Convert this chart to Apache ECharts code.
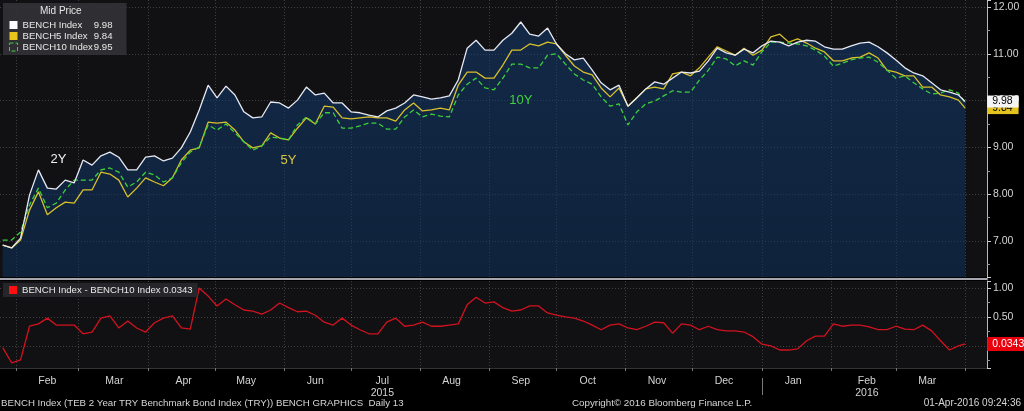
<!DOCTYPE html>
<html><head><meta charset="utf-8">
<script src="https://cdn.jsdelivr.net/npm/echarts@6/dist/echarts.min.js"></script>
<style>html,body{margin:0;padding:0;background:#000;}#c{width:1024px;height:411px;}</style>
</head><body><div id="c"></div>
<script>
const dates = [
'2015-01-26','2015-01-30','2015-02-03','2015-02-07','2015-02-11','2015-02-15','2015-02-19','2015-02-23','2015-02-27','2015-03-03',
'2015-03-07','2015-03-11','2015-03-15','2015-03-19','2015-03-23','2015-03-27','2015-03-31','2015-04-04','2015-04-08','2015-04-12',
'2015-04-16','2015-04-20','2015-04-24','2015-04-28','2015-05-02','2015-05-06','2015-05-10','2015-05-14','2015-05-18','2015-05-22',
'2015-05-26','2015-05-30','2015-06-03','2015-06-07','2015-06-11','2015-06-15','2015-06-19','2015-06-23','2015-06-27','2015-07-01',
'2015-07-05','2015-07-09','2015-07-13','2015-07-17','2015-07-21','2015-07-25','2015-07-29','2015-08-02','2015-08-06','2015-08-10',
'2015-08-14','2015-08-18','2015-08-22','2015-08-26','2015-08-30','2015-09-03','2015-09-07','2015-09-11','2015-09-15','2015-09-19',
'2015-09-23','2015-09-27','2015-10-01','2015-10-05','2015-10-09','2015-10-13','2015-10-17','2015-10-21','2015-10-25','2015-10-29',
'2015-11-02','2015-11-06','2015-11-10','2015-11-14','2015-11-18','2015-11-22','2015-11-26','2015-11-30','2015-12-04','2015-12-08',
'2015-12-12','2015-12-16','2015-12-20','2015-12-24','2015-12-28','2016-01-01','2016-01-05','2016-01-09','2016-01-13','2016-01-17',
'2016-01-21','2016-01-25','2016-01-29','2016-02-02','2016-02-06','2016-02-10','2016-02-14','2016-02-18','2016-02-22','2016-02-26',
'2016-03-01','2016-03-05','2016-03-09','2016-03-13','2016-03-17','2016-03-21','2016-03-25','2016-03-29','2016-04-01'];

const bench = [
6.91, 6.85, 7.06, 7.98, 8.52, 8.13, 8.11, 8.30, 8.24, 8.73,
8.62, 8.82, 8.90, 8.79, 8.52, 8.52, 8.79, 8.82, 8.71, 8.77,
8.99, 9.33, 9.80, 10.33, 10.06, 10.31, 10.12, 9.76, 9.63, 9.65,
9.97, 9.95, 9.84, 10.01, 10.29, 10.12, 10.16, 9.95, 9.95, 9.76,
9.74, 9.69, 9.65, 9.78, 9.84, 9.95, 10.12, 10.08, 10.03, 10.06,
10.10, 10.44, 11.12, 11.29, 11.08, 11.08, 11.29, 11.44, 11.68, 11.42,
11.38, 11.55, 11.21, 11.00, 10.87, 10.91, 10.65, 10.38, 10.23, 10.33,
9.88, 10.06, 10.25, 10.40, 10.35, 10.48, 10.61, 10.59, 10.63, 10.85,
11.12, 11.02, 10.97, 11.10, 11.02, 11.17, 11.27, 11.25, 11.17, 11.25,
11.29, 11.27, 11.15, 11.10, 11.10, 11.17, 11.23, 11.25, 11.15, 11.02,
10.87, 10.70, 10.59, 10.53, 10.38, 10.23, 10.18, 10.12, 9.98];

const bench5 = [
6.91, 6.85, 7.02, 7.66, 8.05, 7.56, 7.71, 7.83, 7.81, 8.09,
8.09, 8.47, 8.43, 8.30, 7.94, 8.13, 8.35, 8.26, 8.18, 8.35,
8.73, 8.94, 8.99, 9.54, 9.52, 9.54, 9.37, 9.12, 8.99, 9.03,
9.31, 9.20, 9.16, 9.41, 9.63, 9.50, 9.88, 9.86, 9.63, 9.61,
9.63, 9.65, 9.63, 9.63, 9.56, 9.80, 9.95, 9.78, 9.80, 9.84,
9.80, 10.33, 10.61, 10.61, 10.48, 10.48, 10.76, 11.08, 11.08, 11.21,
11.17, 11.25, 11.21, 10.97, 10.74, 10.61, 10.55, 10.27, 10.08, 10.27,
9.88, 10.06, 10.25, 10.29, 10.25, 10.57, 10.61, 10.53, 10.70, 10.93,
11.15, 11.06, 10.97, 11.12, 10.97, 11.08, 11.36, 11.42, 11.25, 11.32,
11.23, 11.12, 11.04, 10.85, 10.85, 10.91, 10.93, 11.02, 10.91, 10.65,
10.61, 10.53, 10.53, 10.29, 10.29, 10.12, 10.08, 10.01, 9.84];

const bench10 = [
7.02, 7.02, 7.19, 7.77, 8.13, 7.71, 7.81, 8.09, 8.30, 8.30,
8.30, 8.52, 8.56, 8.47, 8.15, 8.26, 8.47, 8.41, 8.26, 8.35,
8.67, 8.90, 9.01, 9.48, 9.37, 9.50, 9.31, 9.12, 8.94, 9.03,
9.22, 9.20, 9.16, 9.48, 9.65, 9.50, 9.74, 9.74, 9.41, 9.41,
9.46, 9.52, 9.52, 9.39, 9.39, 9.65, 9.80, 9.65, 9.71, 9.67,
9.65, 10.12, 10.35, 10.48, 10.27, 10.23, 10.48, 10.78, 10.78, 10.70,
10.70, 10.97, 11.00, 10.78, 10.57, 10.44, 10.35, 10.08, 9.88, 9.93,
9.48, 9.76, 9.93, 9.99, 10.10, 10.21, 10.18, 10.18, 10.44, 10.65,
10.93, 10.89, 10.74, 10.85, 10.76, 11.04, 11.25, 11.25, 11.23, 11.21,
11.17, 11.08, 10.95, 10.74, 10.80, 10.87, 10.91, 10.93, 10.82, 10.65,
10.48, 10.53, 10.38, 10.25, 10.14, 10.16, 10.23, 10.16, 9.95];

const spread = [
-0.03, -0.29, -0.24, 0.34, 0.38, 0.48, 0.36, 0.36, 0.36, 0.21,
0.24, 0.48, 0.52, 0.31, 0.43, 0.31, 0.24, 0.40, 0.48, 0.52,
0.31, 0.29, 1.00, 0.86, 0.69, 0.81, 0.71, 0.62, 0.60, 0.55,
0.62, 0.74, 0.66, 0.59, 0.60, 0.53, 0.41, 0.36, 0.48, 0.36,
0.28, 0.21, 0.21, 0.41, 0.48, 0.34, 0.36, 0.41, 0.34, 0.34,
0.36, 0.38, 0.71, 0.84, 0.74, 0.76, 0.66, 0.60, 0.62, 0.69,
0.69, 0.57, 0.53, 0.50, 0.48, 0.43, 0.36, 0.28, 0.36, 0.38,
0.31, 0.28, 0.34, 0.41, 0.40, 0.22, 0.38, 0.36, 0.28, 0.34,
0.28, 0.26, 0.26, 0.24, 0.16, 0.03, 0.00, -0.07, -0.07, -0.05,
0.09, 0.17, 0.17, 0.38, 0.34, 0.36, 0.36, 0.33, 0.28, 0.28,
0.34, 0.29, 0.28, 0.36, 0.26, 0.09, -0.07, 0.00, 0.0343];

const monthStarts = ['2015-02-01','2015-03-01','2015-04-01','2015-05-01','2015-06-01','2015-07-01','2015-08-01',
  '2015-09-01','2015-10-01','2015-11-01','2015-12-01','2016-01-01','2016-02-01','2016-03-01','2016-04-01'];
const monthLabelDates = ['2015-02-15','2015-03-17','2015-04-17','2015-05-15','2015-06-15','2015-07-15','2015-08-15',
  '2015-09-15','2015-10-15','2015-11-15','2015-12-15','2016-01-15','2016-02-17','2016-03-15'];
const monthLabels = ['Feb','Mar','Apr','May','Jun','Jul','Aug','Sep','Oct','Nov','Dec','Jan','Feb','Mar'];
const yearLabels  = ['','','','','','2015','','','','','','','2016',''];
const yearBreak = ['2016-01-01'];

const seriesNames = ['BENCH Index','BENCH5 Index','BENCH10 Index','BENCH Index - BENCH10 Index'];
const curveLabels = [
  {text:'2Y',  date:'2015-02-20', value:8.75, color:'#f0f0f0'},
  {text:'5Y',  date:'2015-06-03', value:8.73, color:'#d9c73c'},
  {text:'10Y', date:'2015-09-15', value:10.01, color:'#3fd23f'}
];

const FONT = 'Liberation Sans';
const HOUR = 3600000;
function toTs(s){ const p = s.split('-').map(Number); return new Date(p[0], p[1]-1, p[2]).getTime(); }
const labelMap = {};
monthLabelDates.forEach((d,i)=>{ labelMap[toTs(d)] = monthLabels[i] + (yearLabels[i] ? '\n' + yearLabels[i] : ''); });
function monthFmt(v){
  if (labelMap[v] !== undefined) return labelMap[v];
  let best = '', bd = Infinity;
  for (const k in labelMap){ const d = Math.abs(+k - v); if (d < bd){ bd = d; best = labelMap[k]; } }
  return bd < 86400000 * 2 ? best : '';
}
const pair = a => dates.map((d,i)=>[toTs(d), a[i]]);
const last = a => a[a.length-1];
const legendVals = {
  'BENCH Index': last(bench).toFixed(2),
  'BENCH5 Index': last(bench5).toFixed(2),
  'BENCH10 Index': last(bench10).toFixed(2),
  'BENCH Index - BENCH10 Index': last(spread).toFixed(4)
};
const X_MIN = toTs('2015-01-24') + 19*HOUR, X_MAX = toTs('2016-04-10') + 19*HOUR;
const monthStartTs = monthStarts.map(toTs);
const labelTs = monthLabelDates.map(toTs);
const gridLine = {show:true, lineStyle:{color:'rgba(255,255,255,0.2)', type:[1,2], width:1}};
const tick = {color:'#d4d4d4', fontSize:10.5, fontFamily:FONT};
const LF = 9.6;

const chart = echarts.init(document.getElementById('c'), null, {renderer:'canvas'});
const option = {
  backgroundColor:'#000',
  animation:false,
  textStyle:{fontFamily:FONT},
  title:[
    {text:'Mid Price', left:40, top:6, padding:0, textStyle:{color:'#e6e6e6', fontSize:10, fontWeight:'normal', fontFamily:FONT}},
    {text:'BENCH Index (TEB 2 Year TRY Benchmark Bond Index (TRY)) BENCH GRAPHICS  Daily 13', left:1, top:398, padding:0,
      textStyle:{color:'#d6d6d6', fontSize:9.7, fontWeight:'normal', fontFamily:FONT}},
    {text:'Copyright\u00A9 2016 Bloomberg Finance L.P.', left:572, top:398, padding:0,
      textStyle:{color:'#d6d6d6', fontSize:9.8, fontWeight:'normal', fontFamily:FONT}},
    {text:'01-Apr-2016 09:24:36', right:3, top:398, padding:0,
      textStyle:{color:'#d6d6d6', fontSize:10, fontWeight:'normal', fontFamily:FONT}}
  ],
  legend:[
    {left:3, top:3, orient:'vertical', selectedMode:false, backgroundColor:'rgba(50,50,54,0.92)',
      padding:[17,14,3,6], itemWidth:8, itemHeight:8, itemGap:1,
      data:[
        {name:seriesNames[0], icon:'rect', itemStyle:{color:'#ffffff', borderWidth:0}},
        {name:seriesNames[1], icon:'rect', itemStyle:{color:'#e8c41c', borderWidth:0}},
        {name:seriesNames[2], icon:'rect', itemStyle:{color:'rgba(0,0,0,0)', borderColor:'#3ccf3c', borderWidth:1, borderType:'dashed'}}
      ],
      formatter: n => '{n|' + n + '}{v|' + legendVals[n] + '}',
      textStyle:{color:'#e8e8e8', fontSize:LF, fontFamily:FONT, rich:{
        n:{width:71, color:'#e8e8e8', fontSize:LF, fontFamily:FONT, lineHeight:12},
        v:{width:19, align:'right', color:'#e8e8e8', fontSize:LF, fontFamily:FONT, lineHeight:12}}}
    },
    {left:3, top:283, selectedMode:false, backgroundColor:'rgba(40,40,44,0.92)', padding:[2,5,2,6],
      itemWidth:8, itemHeight:8,
      data:[{name:seriesNames[3], icon:'rect', itemStyle:{color:'#ff1010', borderWidth:0}}],
      formatter: n => n + ' ' + legendVals[n],
      textStyle:{color:'#e8e8e8', fontSize:LF, fontFamily:FONT}
    }
  ],
  grid:[
    {left:0, right:37, top:0, height:277, show:true, backgroundColor:'#111114', borderWidth:0, outerBoundsMode:'none', containLabel:false},
    {left:0, right:37, top:281, height:87, show:true, backgroundColor:'#111114', borderWidth:0, outerBoundsMode:'none', containLabel:false}
  ],
  xAxis:[
    {type:'value', gridIndex:0, position:'bottom', min:X_MIN, max:X_MAX, offset:2,
      axisLine:{show:true, onZero:false, lineStyle:{color:'#a6a6ae', width:2}},
      axisTick:{show:false, customValues:monthStartTs},
      axisLabel:{show:false}, splitLine:gridLine},
    {type:'value', gridIndex:1, position:'bottom', min:X_MIN, max:X_MAX,
      axisLine:{show:true, onZero:false, lineStyle:{color:'#333', width:1}},
      axisTick:{show:true, length:3, customValues:monthStartTs, lineStyle:{color:'#777'}},
      axisLabel:Object.assign({show:true, customValues:labelTs, formatter:monthFmt, margin:7, lineHeight:12}, tick),
      splitLine:gridLine},
    {type:'value', gridIndex:1, position:'bottom', min:X_MIN, max:X_MAX, offset:10,
      axisLine:{show:false, onZero:false},
      axisTick:{show:true, length:17, customValues:yearBreak.map(toTs), lineStyle:{color:'#7a7a7a'}},
      axisLabel:{show:false}, splitLine:{show:false}}
  ],
  yAxis:[
    {type:'value', gridIndex:0, position:'right', min:6.23, max:12.15,
      axisLine:{show:true, onZero:false, lineStyle:{color:'#b8b8b8'}},
      axisTick:{show:true, length:4, lineStyle:{color:'#cfcfcf'}},
      minorTick:{show:true, splitNumber:2, length:3, lineStyle:{color:'#999'}},
      axisLabel:Object.assign({margin:6, showMinLabel:false, showMaxLabel:false,
        formatter:v => Math.abs(v - Math.round(v)) < 1e-6 ? v.toFixed(2) : ''}, tick),
      splitLine:Object.assign({showMinLine:false, showMaxLine:false}, gridLine)},
    {type:'value', gridIndex:1, position:'right', min:-0.38, max:1.12, splitNumber:3,
      axisLine:{show:true, onZero:false, lineStyle:{color:'#b8b8b8'}},
      axisTick:{show:true, length:4, lineStyle:{color:'#cfcfcf'}},
      minorTick:{show:true, splitNumber:2, length:3, lineStyle:{color:'#999'}},
      axisLabel:Object.assign({margin:6, showMinLabel:false, showMaxLabel:false,
        formatter:v => Math.abs(v*2 - Math.round(v*2)) < 1e-6 ? v.toFixed(2) : ''}, tick),
      splitLine:Object.assign({showMinLine:false, showMaxLine:false}, gridLine)}
  ],
  series:[
    {name:'BENCH area', type:'line', xAxisIndex:0, yAxisIndex:0, data:pair(bench), symbol:'none', z:1, silent:true,
      lineStyle:{width:0, opacity:0},
      areaStyle:{color:new echarts.graphic.LinearGradient(0,0,0,1,[
        {offset:0, color:'rgba(20,62,116,0.74)'},{offset:1, color:'rgba(13,50,96,0.74)'}])}},
    {name:seriesNames[1], type:'line', xAxisIndex:0, yAxisIndex:0, data:pair(bench5), symbol:'none', z:3,
      lineStyle:{color:'#d8c02a', width:1.3}, itemStyle:{color:'#e8c41c'},
      endLabel:{show:true, distance:22, formatter:p => p.value[1].toFixed(2), color:'#000', backgroundColor:'#e2c21e',
        padding:[1,6,0,5], fontSize:10.5, fontFamily:FONT, lineHeight:11}},
    {name:seriesNames[2], type:'line', xAxisIndex:0, yAxisIndex:0, data:pair(bench10), symbol:'none', z:3,
      lineStyle:{color:'#3ccf3c', width:1.3, type:[5,3]}, itemStyle:{color:'#3ccf3c'}},
    {name:seriesNames[0], type:'line', xAxisIndex:0, yAxisIndex:0, data:pair(bench), symbol:'none', z:4,
      lineStyle:{color:'#e6e8f2', width:1.3}, itemStyle:{color:'#ffffff'},
      endLabel:{show:true, distance:22, formatter:p => p.value[1].toFixed(2), color:'#000', backgroundColor:'#f4f4f4',
        padding:[1,6,0,5], fontSize:10.5, fontFamily:FONT, lineHeight:11},
      markPoint:{symbol:'circle', symbolSize:0, silent:true,
        label:{show:true, position:'inside', fontSize:13, fontFamily:FONT},
        data:curveLabels.map(c => ({coord:[toTs(c.date), c.value], label:{formatter:c.text, color:c.color}}))}},
    {name:seriesNames[3], type:'line', xAxisIndex:1, yAxisIndex:1, data:pair(spread), symbol:'none', z:3,
      lineStyle:{color:'#d2121e', width:1.3}, itemStyle:{color:'#ff1010'},
      endLabel:{show:true, distance:22, formatter:p => p.value[1].toFixed(4), color:'#fff', backgroundColor:'#e8000c',
        padding:[2,6,1,5], fontSize:10.5, fontFamily:FONT, lineHeight:11}}
  ]
};
chart.setOption(option);
</script></body></html>
